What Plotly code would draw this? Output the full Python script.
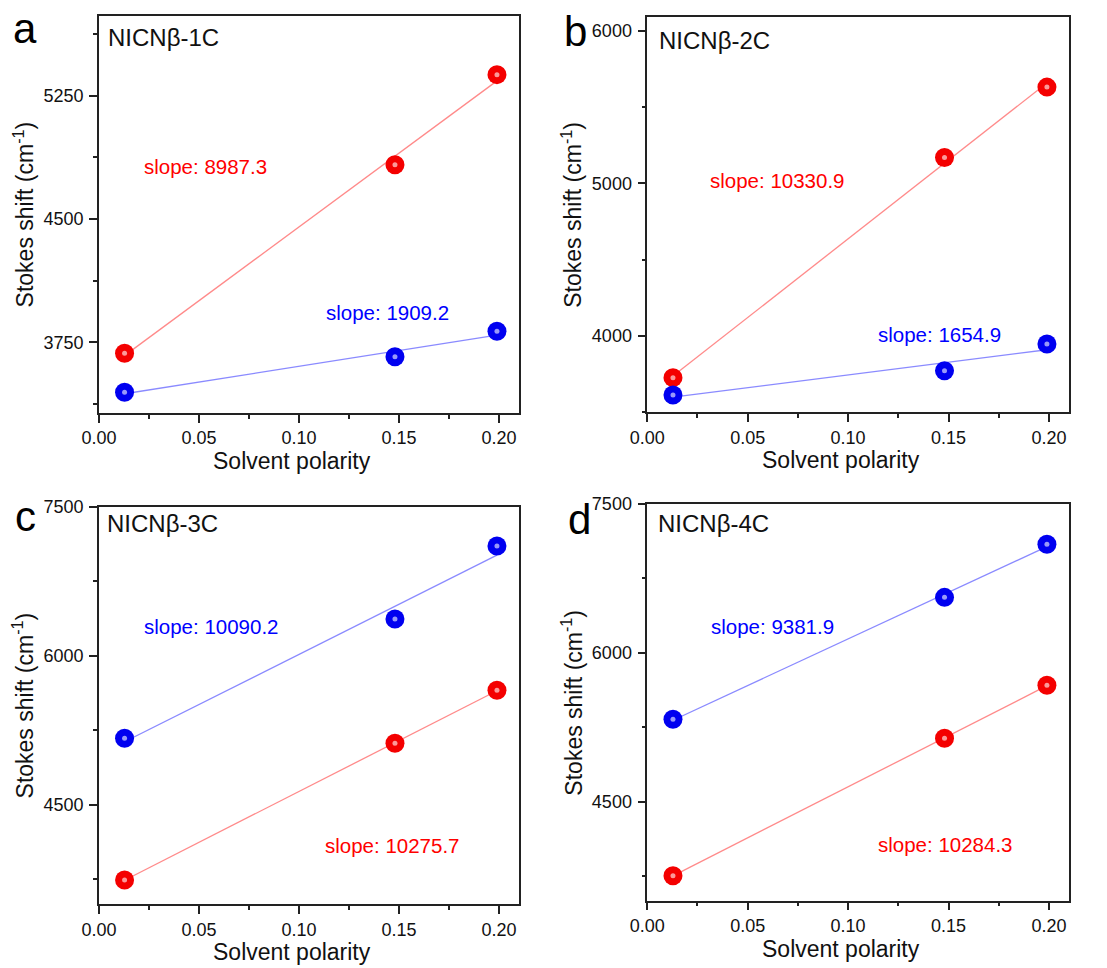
import numpy as np
import plotly.graph_objects as go

# ---------------- data ----------------
polarity = [0.0128, 0.148, 0.199]

a_red = [3683, 4830, 5378]
a_blue = [3446, 3662, 3817]
b_red = [3727, 5170, 5632]
b_blue = [3613, 3772, 3948]
c_red = [3744, 5120, 5653]
c_blue = [5170, 6370, 7105]
d_red = [3752, 5138, 5672]
d_blue = [5329, 6559, 7094]

panel_names = ["NICNβ-1C", "NICNβ-2C", "NICNβ-3C", "NICNβ-4C"]
panel_letters = ["a", "b", "c", "d"]
red_slopes = ["slope: 8987.3", "slope: 10330.9", "slope: 10275.7", "slope: 10284.3"]
blue_slopes = ["slope: 1909.2", "slope: 1654.9", "slope: 10090.2", "slope: 9381.9"]

y_ranges = [[3320, 5735], [3500, 6094], [3500, 7500], [3500, 7500]]
y_dticks = [750, 1000, 1500, 1500]
y_tick0 = [3750, 4000, 4500, 4500]

# ---------------- layout geometry ----------------
x_domains = [[0.0894, 0.4688], [0.5847, 0.9657], [0.0894, 0.4688], [0.5847, 0.9657]]
y_domains = [[0.5734, 0.9835], [0.5741, 0.9828], [0.0658, 0.4766], [0.0695, 0.4793]]

# annotation positions (axis-domain fractions)
name_pos = [(0.017, 0.945), (0.024, 0.939), (0.015, 0.958), (0.021, 0.951)]
red_pos = [(0.102, 0.620), (0.143, 0.587), (0.533, 0.149), (0.542, 0.141)]
blue_pos = [(0.536, 0.254), (0.542, 0.197), (0.102, 0.698), (0.146, 0.691)]
letter_pos = [(25, 28), (575, 31), (25, 516), (579, 519)]  # pixels

W, H = 1107, 968
FONT = "Liberation Sans, Arial, sans-serif"
RED = "#ff0000"
BLUE = "#0000ff"

series = [(a_red, a_blue), (b_red, b_blue), (c_red, c_blue), (d_red, d_blue)]

fig = go.Figure()
annotations = []

for i, (red, blue) in enumerate(series):
    xa = "x" if i == 0 else f"x{i+1}"
    ya = "y" if i == 0 else f"y{i+1}"
    for vals, ccol, lcol in [
        (red, "#f40000", "rgba(255,60,60,0.6)"),
        (blue, "#0000f0", "rgba(60,60,255,0.6)"),
    ]:
        xs = np.array(polarity)
        ys = np.array(vals, dtype=float)
        k, b0 = np.polyfit(xs, ys, 1)
        xl = np.array([xs.min(), xs.max()])
        fig.add_trace(go.Scatter(x=xl, y=k * xl + b0, mode="lines",
                                 line=dict(color=lcol, width=1.3),
                                 xaxis=xa, yaxis=ya, showlegend=False, hoverinfo="skip"))
        fig.add_trace(go.Scatter(x=xs, y=ys, mode="markers",
                                 marker=dict(size=19, color=ccol, line=dict(width=0)),
                                 xaxis=xa, yaxis=ya, showlegend=False))
        fig.add_trace(go.Scatter(x=xs, y=ys, mode="markers",
                                 marker=dict(size=5, color="#ffffff", opacity=0.6,
                                             line=dict(width=0)),
                                 xaxis=xa, yaxis=ya, showlegend=False, hoverinfo="skip"))

    axis_common = dict(
        showline=True, linecolor="#222222", linewidth=1.5, mirror=True,
        ticks="outside", ticklen=8, tickwidth=1.5, tickcolor="#222222",
        showgrid=False, zeroline=False, automargin=False,
        tickfont=dict(family=FONT, size=18, color="#111111"),
    )
    fig.layout[("xaxis" if i == 0 else f"xaxis{i+1}")] = dict(
        axis_common, domain=x_domains[i], range=[0, 0.21], anchor=ya,
        tick0=0, dtick=0.05, tickformat=".2f",
        minor=dict(ticks="outside", ticklen=4, tickwidth=1.5, tickcolor="#222222", dtick=0.025, tick0=0),
    )
    fig.layout[("yaxis" if i == 0 else f"yaxis{i+1}")] = dict(
        axis_common, domain=y_domains[i], range=y_ranges[i], anchor=xa,
        tick0=y_tick0[i], dtick=y_dticks[i], ticklabelstandoff=2,
        minor=dict(ticks="outside", ticklen=4, tickwidth=1.5, tickcolor="#222222",
                   dtick=y_dticks[i] / 2, tick0=y_tick0[i]),
    )

    xd = f"{xa} domain"
    yd = f"{ya} domain"
    annotations.append(dict(xref=xd, yref=yd, x=name_pos[i][0], y=name_pos[i][1],
                            text=panel_names[i], showarrow=False, xanchor="left", yanchor="middle",
                            font=dict(family=FONT, size=24, color="#111111")))
    annotations.append(dict(xref=xd, yref=yd, x=red_pos[i][0], y=red_pos[i][1],
                            text=red_slopes[i], showarrow=False, xanchor="left", yanchor="middle",
                            font=dict(family=FONT, size=20.5, color=RED)))
    annotations.append(dict(xref=xd, yref=yd, x=blue_pos[i][0], y=blue_pos[i][1],
                            text=blue_slopes[i], showarrow=False, xanchor="left", yanchor="middle",
                            font=dict(family=FONT, size=20.5, color=BLUE)))
    # axis titles
    xc = (x_domains[i][0] + x_domains[i][1]) / 2 - 17 / W
    annotations.append(dict(xref="paper", yref="paper", x=xc, y=y_domains[i][0] - 48 / H,
                            text="Solvent polarity", showarrow=False, xanchor="center", yanchor="middle",
                            font=dict(family=FONT, size=23, color="#111111")))
    yc = (y_domains[i][0] + y_domains[i][1]) / 2
    annotations.append(dict(xref="paper", yref="paper", x=x_domains[i][0] - 75 / W, y=yc,
                            text="Stokes shift (cm<sup>-1</sup>)", showarrow=False, textangle=-90,
                            xanchor="center", yanchor="middle",
                            font=dict(family=FONT, size=23, color="#111111")))
    annotations.append(dict(xref="paper", yref="paper", x=letter_pos[i][0] / W, y=1 - letter_pos[i][1] / H,
                            text=panel_letters[i], showarrow=False, xanchor="center", yanchor="middle",
                            font=dict(family=FONT, size=42, color="#000000")))

fig.update_layout(
    width=W, height=H, margin=dict(l=0, r=0, t=0, b=0),
    paper_bgcolor="white", plot_bgcolor="white",
    annotations=annotations, showlegend=False,
)

fig.write_html("out.html", config={"displayModeBar": False})
